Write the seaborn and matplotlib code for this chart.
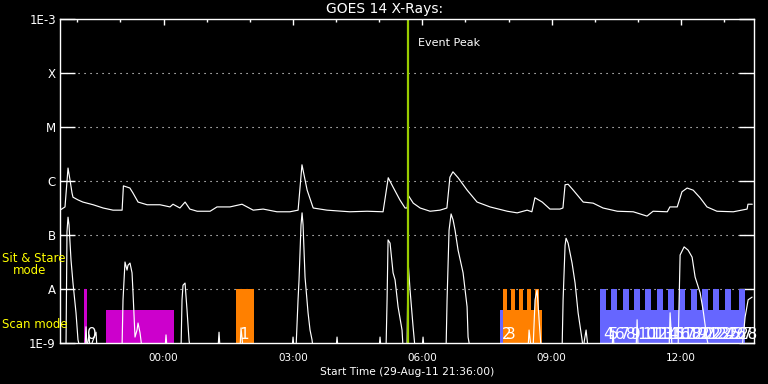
import matplotlib
matplotlib.use("Agg")
import matplotlib.pyplot as plt
import seaborn as sns
import pandas as pd
import numpy as np

# ---------------- data (hours since 29-Aug-11 21:36:00) ----------------
long_hours = [0.0, 0.116, 0.186, 0.232, 0.278, 0.301, 0.417, 0.53, 0.77, 1.00, 1.23, 1.44, 1.47,
              1.62, 1.69, 1.81, 2.02, 2.32, 2.55, 2.62, 2.78, 2.90, 3.01, 3.18, 3.48, 3.64, 3.94,
              4.22, 4.48, 4.71, 5.03, 5.33, 5.52, 5.61, 5.73, 5.87, 6.19, 6.72, 7.12, 7.49, 7.61,
              7.72, 7.88, 8.00, 8.05, 8.07, 8.19, 8.35, 8.58, 8.81, 8.97, 9.04, 9.11, 9.23, 9.44,
              9.67, 9.97, 10.37, 10.60, 10.83, 10.94, 11.01, 11.18, 11.36, 11.59, 11.66, 11.71,
              11.78, 11.90, 12.13, 12.36, 12.59, 12.92, 13.29, 13.61, 13.75, 14.08, 14.14, 14.31,
              14.42, 14.54, 14.68, 14.84, 15.00, 15.23, 15.61, 15.93, 15.95, 16.05]
long_logflux = [-6.54, -6.48, -5.76, -5.98, -6.22, -6.30, -6.35, -6.39, -6.44, -6.50, -6.54, -6.54,
                -6.09, -6.13, -6.22, -6.39, -6.44, -6.44, -6.48, -6.43, -6.50, -6.39, -6.52, -6.56,
                -6.56, -6.48, -6.48, -6.43, -6.54, -6.52, -6.57, -6.57, -6.54, -5.70, -6.17, -6.50,
                -6.54, -6.57, -6.56, -6.57, -5.94, -6.11, -6.35, -6.50, -6.50, -6.26, -6.41, -6.50,
                -6.56, -6.54, -6.50, -5.93, -5.83, -5.94, -6.17, -6.39, -6.48, -6.56, -6.59, -6.54,
                -6.57, -6.31, -6.39, -6.52, -6.52, -6.50, -6.07, -6.06, -6.17, -6.39, -6.41, -6.50,
                -6.56, -6.57, -6.65, -6.56, -6.57, -6.48, -6.48, -6.20, -6.13, -6.17, -6.31, -6.48,
                -6.56, -6.57, -6.52, -6.43, -6.43]

short_hours = [0.0, 0.139, 0.162, 0.186, 0.209, 0.255, 0.301, 0.371, 0.417, 0.464, 0.580, 0.603,
               0.626, 0.672, 0.696, 0.835, 0.858, 1.438, 1.461, 1.507, 1.554, 1.577, 1.623, 1.670,
               1.693, 1.739, 1.786, 1.809, 1.855, 1.901, 2.435, 2.458, 2.481, 2.806, 2.829, 2.852,
               2.899, 2.945, 2.991, 3.014, 3.664, 3.687, 3.710, 4.174, 4.197, 4.243, 5.380, 5.403,
               5.426, 5.472, 5.519, 5.542, 5.588, 5.612, 5.635, 5.681, 5.751, 5.797, 5.843, 5.867,
               6.400, 6.423, 6.446, 7.397, 7.420, 7.443, 7.559, 7.583, 7.606, 7.652, 7.722, 7.768,
               7.838, 7.930, 7.954, 8.046, 8.070, 8.116, 8.186, 8.232, 8.394, 8.417, 8.441, 8.951,
               8.974, 9.020, 9.067, 9.113, 9.159, 9.229, 9.345, 9.438, 9.461, 9.507, 10.852, 10.875,
               10.922, 10.968, 11.014, 11.061, 11.107, 11.154, 11.641, 11.664, 11.710, 11.733,
               11.780, 11.872, 11.942, 12.012, 12.104, 12.128, 12.197, 12.243, 12.800, 12.823,
               12.846, 13.357, 13.380, 13.403, 14.122, 14.145, 14.191, 14.330, 14.354, 14.377,
               14.470, 14.562, 14.655, 14.725, 14.841, 14.910, 15.003, 15.049, 15.814, 15.884,
               15.954, 16.046]
short_logflux = [-9.1, -9.1, -6.94, -6.67, -6.81, -7.46, -7.89, -8.44, -8.94, -9.1, -9.1, -8.70,
                 -9.1, -8.85, -9.1, -8.80, -9.1, -9.1, -8.20, -7.50, -7.65, -7.56, -7.52, -7.70,
                 -8.07, -8.89, -8.76, -8.63, -8.81, -9.1, -9.1, -8.85, -9.1, -9.1, -8.20, -7.93,
                 -7.89, -8.39, -8.94, -9.1, -9.1, -8.80, -9.1, -9.1, -8.72, -9.1, -9.1, -8.89,
                 -9.1, -9.1, -8.20, -7.83, -6.81, -6.59, -6.81, -7.78, -8.44, -8.76, -8.94, -9.1,
                 -9.1, -8.89, -9.1, -9.1, -8.89, -9.1, -9.1, -8.20, -7.09, -7.15, -7.70, -7.83,
                 -8.33, -8.76, -9.1, -9.1, -7.50, -8.02, -8.70, -9.1, -9.1, -8.89, -9.1, -9.1,
                 -8.20, -6.91, -6.61, -6.72, -6.91, -7.28, -7.70, -8.33, -8.89, -9.1, -9.1, -8.76,
                 -9.1, -9.1, -8.20, -8.02, -8.57, -9.1, -9.1, -8.20, -7.19, -7.06, -7.15, -7.52,
                 -7.89, -8.44, -8.94, -9.1, -8.76, -9.1, -9.1, -8.76, -9.1, -9.1, -8.57, -9.1,
                 -9.1, -8.44, -9.1, -9.1, -8.20, -7.37, -7.22, -7.28, -7.41, -7.78, -8.07, -8.39,
                 -8.94, -9.1, -9.1, -8.52, -8.20, -8.15]

# instrument mode blocks: start hour, end hour, mode, colour group
block_start = [0.557, 1.067, 4.081, 10.203, 10.272, 10.272, 10.458, 10.643, 10.829, 11.014,
               12.522, 12.522, 12.777, 13.055, 13.310, 13.565, 13.843, 14.099, 14.354, 14.632,
               14.887, 15.142, 15.420, 15.745]
block_end = [0.626, 2.643, 4.499, 10.272, 11.177, 10.365, 10.551, 10.736, 10.922, 11.107,
             15.884, 12.662, 12.917, 13.195, 13.450, 13.705, 13.983, 14.239, 14.494, 14.772,
             15.027, 15.282, 15.560, 15.884]
block_mode = ["sit", "scan", "sit", "scan", "scan", "sit", "sit", "sit", "sit", "sit",
              "scan", "sit", "sit", "sit", "sit", "sit", "sit", "sit", "sit", "sit",
              "sit", "sit", "sit", "sit"]
block_group = ["m", "m", "o", "b", "o", "o", "o", "o", "o", "o",
               "b", "b", "b", "b", "b", "b", "b", "b", "b", "b",
               "b", "b", "b", "b"]
mode_top = {"sit": 1e-8, "scan": 4.1e-9}
group_color = {"m": "#cc00cc", "o": "#ff8000", "b": "#6666ff"}

scan_labels = [str(i) for i in range(0, 29)]
scan_label_hours = [0.63, 4.15, 10.25, 10.33, 12.591, 12.723, 12.853, 12.986, 13.118, 13.248,
                    13.380, 13.512, 13.642, 13.774, 13.906, 14.036, 14.168, 14.300, 14.430,
                    14.562, 14.694, 14.824, 14.957, 15.089, 15.219, 15.351, 15.483, 15.613,
                    15.745]

event_peak_hour = 8.06
x_end = 16.09
ytick_vals = [1e-9, 1e-8, 1e-7, 1e-6, 1e-5, 1e-4, 1e-3]
ytick_text = ["1E-9", "A", "B", "C", "M", "X", "1E-3"]
xtick_hours = [2.4, 5.4, 8.4, 11.4, 14.4]
xtick_text = ["00:00", "03:00", "06:00", "09:00", "12:00"]
xminor_hours = [0.4, 1.4, 3.4, 4.4, 6.4, 7.4, 9.4, 10.4, 12.4, 13.4, 15.4]

# ---------------- styling ----------------
sns.set_style("dark")
plt.rcParams.update({
    "figure.facecolor": "black", "axes.facecolor": "black",
    "axes.edgecolor": "white", "text.color": "white",
    "xtick.color": "white", "ytick.color": "white",
    "font.family": ["DejaVu Sans"],
})

fig = plt.figure(figsize=(7.68, 3.84), dpi=100)
ax = fig.add_axes([60 / 768, 1 - 343 / 384, 694 / 768, 324 / 384])
ax.set_facecolor("black")

blocks = pd.DataFrame({"start": block_start, "end": block_end,
                       "mode": block_mode, "group": block_group})
for _, r in blocks.iterrows():
    top = mode_top[r["mode"]]
    ax.bar(r["start"], top - 1e-11, width=r["end"] - r["start"], bottom=1e-11,
           align="edge", color=group_color[r["group"]], linewidth=0, zorder=1)

long_df = pd.DataFrame({"h": long_hours, "f": 10 ** np.array(long_logflux)})
short_df = pd.DataFrame({"h": short_hours, "f": 10 ** np.array(short_logflux)})
sns.lineplot(data=long_df, x="h", y="f", ax=ax, color="white", lw=0.85,
             estimator=None, sort=False, zorder=3)
sns.lineplot(data=short_df, x="h", y="f", ax=ax, color="white", lw=0.85,
             estimator=None, sort=False, zorder=3)

for lab, h in zip(scan_labels, scan_label_hours):
    ax.text(h, 1.03e-9, lab, color="white", fontsize=11, ha="left", va="bottom",
            zorder=4, clip_on=False)

ax.axvline(event_peak_hour, color="#99cc00", lw=1.6, zorder=5)
ax.text(event_peak_hour + 0.24, 10 ** -3.44, "Event Peak", color="white",
        fontsize=8, ha="left", va="center")

ax.set_yscale("log")
ax.set_ylim(1e-9, 1e-3)
ax.set_xlim(0, x_end)
ax.set_yticks(ytick_vals)
ax.set_yticklabels(ytick_text, fontsize=8.5)
ax.yaxis.set_minor_locator(matplotlib.ticker.NullLocator())
ax.tick_params(axis="y", which="major", direction="in", length=10.8, width=1,
               left=True, right=True, pad=3)
ax.set_xticks(xtick_hours)
ax.set_xticklabels(xtick_text, fontsize=7.5)
ax.set_xticks(xminor_hours, minor=True)
ax.tick_params(axis="x", which="major", direction="in", length=4.5, width=1,
               top=True, bottom=False, pad=7)
ax.tick_params(axis="x", which="minor", direction="in", length=2.3, width=1,
               top=True, bottom=False)
ax.set_xlabel("Start Time (29-Aug-11 21:36:00)", fontsize=7.7, color="white", labelpad=3)
ax.set_ylabel("")
for s in ax.spines.values():
    s.set_color("white")
    s.set_linewidth(1)
    s.set_zorder(6)

for v in ytick_vals[1:-1]:
    ax.axhline(v, color="white", lw=0.8, ls=(0, (1, 4.4)), zorder=0.5)

fig.text(385 / 768, 1 - 9 / 384, "GOES 14 X-Rays:", color="white", fontsize=10,
         ha="center", va="center")
fig.text(2 / 768, 1 - 259 / 384, "Sit & Stare", color="#ffff00", fontsize=8.5,
         ha="left", va="center")
fig.text(13 / 768, 1 - 271 / 384, "mode", color="#ffff00", fontsize=8.5,
         ha="left", va="center")
fig.text(2 / 768, 1 - 324 / 384, "Scan mode", color="#ffff00", fontsize=8.5,
         ha="left", va="center")

fig.savefig("out.png", dpi=100, facecolor="black")
